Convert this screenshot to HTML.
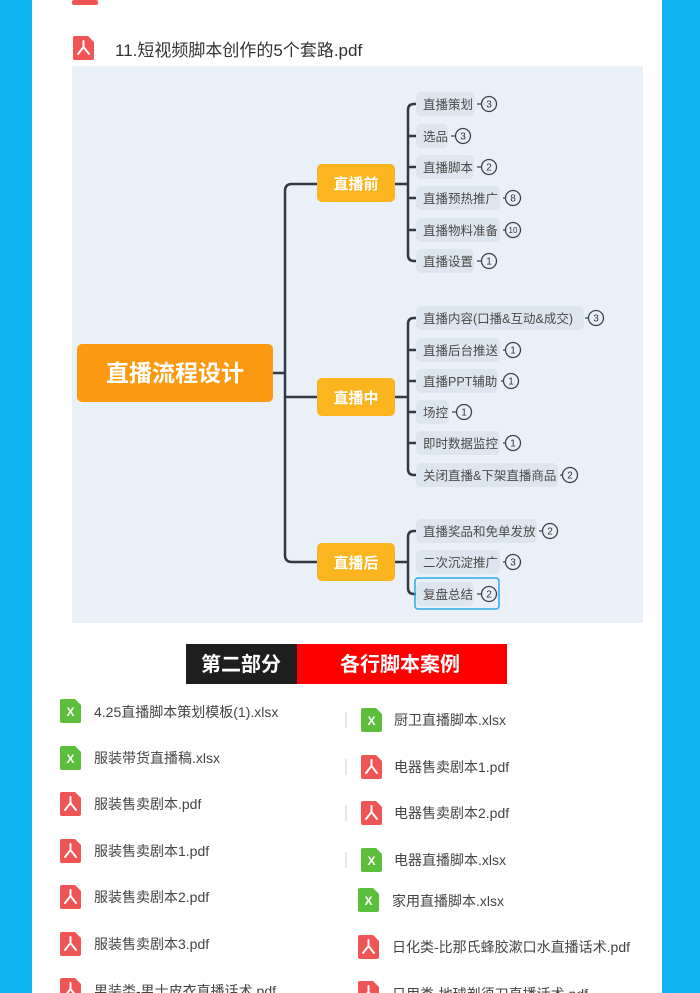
<!DOCTYPE html>
<html><head><meta charset="utf-8"><style>
html,body{margin:0;padding:0;width:700px;height:993px;overflow:hidden;background:#fff}
svg{display:block}
text{font-family:"Liberation Sans","Noto Sans CJK SC",sans-serif}
</style></head><body>
<svg width="700" height="993" viewBox="0 0 700 993" xmlns="http://www.w3.org/2000/svg">
<defs>
<g id="pdf"><path d="M0 2 Q0 0 2 0 H15 L21 6 V22 Q21 24 19 24 H2 Q0 24 0 22 Z" fill="#f05555"/><path d="M10.5 5 L10.5 11 M10.5 11 L5 18 M10.5 11 L16 18" stroke="#fff" stroke-width="2" fill="none" stroke-linecap="round"/></g>
<g id="xls"><path d="M0 2 Q0 0 2 0 H15 L21 6 V22 Q21 24 19 24 H2 Q0 24 0 22 Z" fill="#5cbf3b"/><text x="10.5" y="17" font-size="12" font-weight="bold" fill="#fff" text-anchor="middle">X</text></g>
</defs>
<rect x="0" y="0" width="32" height="993" fill="#0db3f0"/>
<rect x="662" y="0" width="38" height="993" fill="#0db3f0"/>
<rect x="72" y="0" width="26" height="5" rx="2" fill="#f05555"/>
<use href="#pdf" x="73" y="36"/>
<text x="115" y="56" font-size="17" fill="#333">11.短视频脚本创作的5个套路.pdf</text>
<rect x="72" y="66" width="571" height="557" fill="#eaf0f7"/>
<g stroke="#2f3a45" stroke-width="2.5" fill="none">
<path d="M273 373 H285"/>
<path d="M317 184 H292 Q285 184 285 191 V555 Q285 562 292 562 H317"/>
<path d="M285 397 H317"/>
<path d="M395 184 H408 M416 104 H414 Q408 104 408 110 V255 Q408 261 414 261 H416 M408 136 H416 M408 167 H416 M408 198 H416 M408 230 H416"/>
<path d="M395 397 H408 M416 318 H414 Q408 318 408 324 V469 Q408 475 414 475 H416 M408 350 H416 M408 381 H416 M408 412 H416 M408 443 H416"/>
<path d="M395 562 H408 M416 531 H414 Q408 531 408 537 V588 Q408 594 414 594 H416"/>
</g>
<rect x="77" y="344" width="196" height="58" rx="5" fill="#fb9a10"/>
<text x="175" y="381" font-size="23" font-weight="bold" fill="#fff" text-anchor="middle">直播流程设计</text>
<rect x="317" y="164" width="78" height="38" rx="5" fill="#fcb41f"/>
<text x="356" y="189" font-size="15" font-weight="bold" fill="#fff" text-anchor="middle">直播前</text>
<rect x="317" y="378" width="78" height="38" rx="5" fill="#fcb41f"/>
<text x="356" y="403" font-size="15" font-weight="bold" fill="#fff" text-anchor="middle">直播中</text>
<rect x="317" y="543" width="78" height="38" rx="5" fill="#fcb41f"/>
<text x="356" y="568" font-size="15" font-weight="bold" fill="#fff" text-anchor="middle">直播后</text>
<rect x="415" y="578" width="84" height="31" rx="3" fill="none" stroke="#2ea7e8" stroke-width="1.5"/>
<g font-size="12.5" fill="#4a4a4a">
<g><rect x="416" y="92" width="58" height="24" rx="5" fill="#dde5ee"/><text x="423" y="109">直播策划</text></g>
<g><rect x="416" y="124" width="32" height="24" rx="5" fill="#dde5ee"/><text x="423" y="141">选品</text></g>
<g><rect x="416" y="155" width="58" height="24" rx="5" fill="#dde5ee"/><text x="423" y="172">直播脚本</text></g>
<g><rect x="416" y="186" width="84" height="24" rx="5" fill="#dde5ee"/><text x="423" y="203">直播预热推广</text></g>
<g><rect x="416" y="218" width="84" height="24" rx="5" fill="#dde5ee"/><text x="423" y="235">直播物料准备</text></g>
<g><rect x="416" y="249" width="58" height="24" rx="5" fill="#dde5ee"/><text x="423" y="266">直播设置</text></g>
<g><rect x="416" y="306" width="168" height="24" rx="5" fill="#dde5ee"/><text x="423" y="323">直播内容(口播&amp;互动&amp;成交)</text></g>
<g><rect x="416" y="338" width="84" height="24" rx="5" fill="#dde5ee"/><text x="423" y="355">直播后台推送</text></g>
<g><rect x="416" y="369" width="82" height="24" rx="5" fill="#dde5ee"/><text x="423" y="386">直播PPT辅助</text></g>
<g><rect x="416" y="400" width="33" height="24" rx="5" fill="#dde5ee"/><text x="423" y="417">场控</text></g>
<g><rect x="416" y="431" width="84" height="24" rx="5" fill="#dde5ee"/><text x="423" y="448">即时数据监控</text></g>
<g><rect x="416" y="463" width="142" height="24" rx="5" fill="#dde5ee"/><text x="423" y="480">关闭直播&amp;下架直播商品</text></g>
<g><rect x="416" y="519" width="121" height="24" rx="5" fill="#dde5ee"/><text x="423" y="536">直播奖品和免单发放</text></g>
<g><rect x="416" y="550" width="84" height="24" rx="5" fill="#dde5ee"/><text x="423" y="567">二次沉淀推广</text></g>
<g><rect x="416" y="582" width="58" height="24" rx="5" fill="#dde5ee"/><text x="423" y="599">复盘总结</text></g>
</g>
<g stroke="#3a4450" stroke-width="1.3" fill="none">
<path d="M477 104 H481 M451 136 H455 M477 167 H481 M503 198 H505 M503 230 H505 M477 261 H481 M585 318 H588 M503 350 H505 M501 381 H503 M452 412 H456 M503 443 H505 M560 475 H562 M539 531 H542 M503 562 H505 M477 594 H481"/>
<circle cx="489" cy="104" r="7.5"/><circle cx="463" cy="136" r="7.5"/><circle cx="489" cy="167" r="7.5"/><circle cx="513" cy="198" r="7.5"/><circle cx="513" cy="230" r="7.5"/><circle cx="489" cy="261" r="7.5"/>
<circle cx="596" cy="318" r="7.5"/><circle cx="513" cy="350" r="7.5"/><circle cx="511" cy="381" r="7.5"/><circle cx="464" cy="412" r="7.5"/><circle cx="513" cy="443" r="7.5"/><circle cx="570" cy="475" r="7.5"/>
<circle cx="550" cy="531" r="7.5"/><circle cx="513" cy="562" r="7.5"/><circle cx="489" cy="594" r="7.5"/>
</g>
<g font-size="10" fill="#333" text-anchor="middle">
<text x="489" y="107.5">3</text><text x="463" y="139.5">3</text><text x="489" y="170.5">2</text><text x="513" y="201.5">8</text><text x="513" y="233" font-size="8">10</text><text x="489" y="264.5">1</text>
<text x="596" y="321.5">3</text><text x="513" y="353.5">1</text><text x="511" y="384.5">1</text><text x="464" y="415.5">1</text><text x="513" y="446.5">1</text><text x="570" y="478.5">2</text>
<text x="550" y="534.5">2</text><text x="513" y="565.5">3</text><text x="489" y="597.5">2</text>
</g>
<rect x="186" y="644" width="111" height="40" fill="#1e1e1e"/>
<rect x="297" y="644" width="210" height="40" fill="#fe0000"/>
<text x="241" y="671" font-size="20" font-weight="bold" fill="#fff" text-anchor="middle">第二部分</text>
<text x="400" y="671" font-size="20" font-weight="bold" fill="#fff" text-anchor="middle">各行脚本案例</text>
<g font-size="14" fill="#444">
<use href="#xls" x="60" y="699"/><text x="94" y="717">4.25直播脚本策划模板(1).xlsx</text>
<use href="#xls" x="60" y="746"/><text x="94" y="763">服装带货直播稿.xlsx</text>
<use href="#pdf" x="60" y="792"/><text x="94" y="809">服装售卖剧本.pdf</text>
<use href="#pdf" x="60" y="839"/><text x="94" y="856">服装售卖剧本1.pdf</text>
<use href="#pdf" x="60" y="885"/><text x="94" y="902">服装售卖剧本2.pdf</text>
<use href="#pdf" x="60" y="932"/><text x="94" y="949">服装售卖剧本3.pdf</text>
<use href="#pdf" x="60" y="978"/><text x="94" y="996">男装类-男士皮衣直播话术.pdf</text>
<use href="#xls" x="361" y="708"/><text x="394" y="725">厨卫直播脚本.xlsx</text>
<use href="#pdf" x="361" y="755"/><text x="394" y="772">电器售卖剧本1.pdf</text>
<use href="#pdf" x="361" y="801"/><text x="394" y="818">电器售卖剧本2.pdf</text>
<use href="#xls" x="361" y="848"/><text x="394" y="865">电器直播脚本.xlsx</text>
<use href="#xls" x="358" y="888"/><text x="392" y="906">家用直播脚本.xlsx</text>
<use href="#pdf" x="358" y="935"/><text x="392" y="952">日化类-比那氏蜂胶漱口水直播话术.pdf</text>
<use href="#pdf" x="358" y="981"/><text x="392" y="999">日用类-地球剃须刀直播话术.pdf</text>
</g>
<g stroke="#ccc" stroke-width="1"><path d="M346 712 V728 M346 759 V775 M346 805 V821 M346 852 V868"/></g>
</svg>
</body></html>
